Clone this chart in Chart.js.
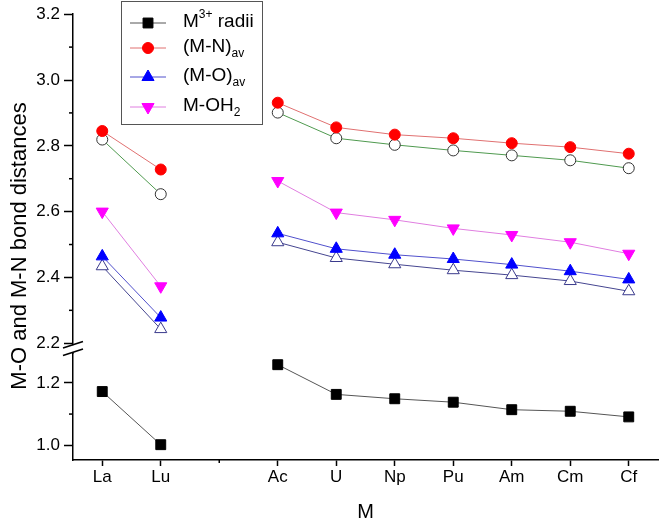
<!DOCTYPE html>
<html>
<head>
<meta charset="utf-8">
<style>
  html, body { margin: 0; padding: 0; background: #fff; }
  #wrap { width: 666px; height: 527px; }
</style>
<script src="https://cdn.jsdelivr.net/npm/chart.js@4.4.1/dist/chart.umd.min.js"></script>
</head>
<body>
<div id="wrap"><canvas id="chart" width="666" height="527"></canvas></div>
<script>
// categories (empty slot = gap between the lanthanides and the actinides)
const elements = ['La', 'Lu', '', 'Ac', 'U', 'Np', 'Pu', 'Am', 'Cm', 'Cf'];

// series values
const radii  = [1.172, 1.002, null, 1.258, 1.163, 1.149, 1.138, 1.114, 1.109, 1.091];
const mnAvg  = [2.845, 2.728, null, 2.931, 2.856, 2.834, 2.823, 2.808, 2.796, 2.776];
const mnCalc = [2.819, 2.653, null, 2.901, 2.823, 2.803, 2.786, 2.771, 2.756, 2.732];
const moAvg  = [2.464, 2.278, null, 2.534, 2.487, 2.469, 2.456, 2.439, 2.419, 2.394];
const moCalc = [2.434, 2.243, null, 2.507, 2.459, 2.440, 2.422, 2.407, 2.389, 2.358];
const mOH2   = [2.600, 2.373, null, 2.693, 2.597, 2.575, 2.549, 2.529, 2.507, 2.472];

// tick values of the broken y axis
const upperTicks = [2.2, 2.3, 2.4, 2.5, 2.6, 2.7, 2.8, 2.9, 3.0, 3.1, 3.2];
const lowerTicks = [1.0, 1.1, 1.2];

const FONT = '"Liberation Sans", Arial, sans-serif';
const isMajor = v => Math.round(v * 10) % 2 === 0;

const ds = (label, data, axis, line, style, r, fill, border, rot) => ({
  label, data, yAxisID: axis,
  borderColor: line, borderWidth: 1,
  pointStyle: style, pointRadius: r, pointHoverRadius: r,
  pointRotation: rot || 0,
  pointBackgroundColor: fill, pointBorderColor: border, pointBorderWidth: 1,
  spanGaps: false, tension: 0
});

const datasets = [
  ds('M3+ radii', radii, 'yLow', '#555555', 'rect', 7, '#000000', '#000000'),
  ds('(M-N)av', mnAvg, 'yUp', '#e07070', 'circle', 5.5, '#ff0000', '#ff0000'),
  ds('calc M-N', mnCalc, 'yUp', '#4f9a4f', 'circle', 5.5, '#ffffff', '#333333'),
  ds('(M-O)av', moAvg, 'yUp', '#5050cc', 'triangle', 7, '#0000ff', '#0000ff'),
  ds('calc M-O', moCalc, 'yUp', '#454590', 'triangle', 7, '#ffffff', '#3a3a8c'),
  ds('M-OH2', mOH2, 'yUp', '#e07ee0', 'triangle', 7, '#ff00ff', '#ff00ff', 180)
];

// legend entries with super/subscripts
const legendItems = [
  { ds: 0, parts: [{ t: 'M' }, { t: '3+', s: 'sup' }, { t: ' radii' }] },
  { ds: 1, parts: [{ t: '(M-N)' }, { t: 'av', s: 'sub' }] },
  { ds: 3, parts: [{ t: '(M-O)' }, { t: 'av', s: 'sub' }] },
  { ds: 5, parts: [{ t: 'M-OH' }, { t: '2', s: 'sub' }] }
];

const decorations = {
  id: 'decorations',
  afterDraw(chart) {
    const ctx = chart.ctx;
    const yUp = chart.scales.yUp, yLow = chart.scales.yLow, x = chart.scales.x;
    const ax = chart.chartArea.left;
    ctx.save();

    // minor ticks
    ctx.strokeStyle = '#000';
    ctx.lineWidth = 1.5;
    [[yUp, upperTicks], [yLow, lowerTicks]].forEach(([s, ticks]) => {
      ticks.filter(v => !isMajor(v)).forEach(v => {
        const py = s.getPixelForValue(v);
        ctx.beginPath(); ctx.moveTo(ax - 4, py); ctx.lineTo(ax, py); ctx.stroke();
      });
    });
    const gx = x.getPixelForValue(2);
    ctx.beginPath(); ctx.moveTo(gx, chart.chartArea.bottom); ctx.lineTo(gx, chart.chartArea.bottom + 3); ctx.stroke();

    // axis break
    const p = yUp.getPixelForValue(2.2);
    ctx.fillStyle = '#fff';
    ctx.fillRect(ax - 2, p + 2, 4, 7);
    ctx.lineWidth = 1.5;
    [p + 1.5, p + 9].forEach(c => {
      ctx.beginPath(); ctx.moveTo(ax - 10, c + 3.3); ctx.lineTo(ax + 10, c - 3.3); ctx.stroke();
    });

    // y title
    ctx.fillStyle = '#000';
    ctx.font = '22px ' + FONT;
    ctx.textAlign = 'center';
    ctx.textBaseline = 'middle';
    ctx.translate(20, 246);
    ctx.rotate(-Math.PI / 2);
    ctx.fillText('M-O and M-N bond distances', 0, 0);
    ctx.restore();

    // legend
    ctx.save();
    ctx.fillStyle = '#fff';
    ctx.fillRect(121.5, 1.5, 141, 123);
    ctx.strokeStyle = '#555';
    ctx.lineWidth = 1;
    ctx.strokeRect(121.5, 1.5, 141, 123);
    const rows = [23, 48, 77, 107];
    legendItems.forEach((item, i) => {
      const d = chart.data.datasets[item.ds];
      const y = rows[i];
      ctx.strokeStyle = d.borderColor;
      ctx.lineWidth = 1;
      ctx.beginPath(); ctx.moveTo(130, y); ctx.lineTo(166, y); ctx.stroke();
      ctx.fillStyle = d.pointBackgroundColor;
      ctx.strokeStyle = d.pointBorderColor;
      Chart.helpers.drawPoint(ctx, {
        pointStyle: d.pointStyle, radius: d.pointRadius,
        rotation: d.pointRotation, borderWidth: 1
      }, 148, y);
      let tx = 183;
      ctx.fillStyle = '#000';
      ctx.textAlign = 'left';
      ctx.textBaseline = 'middle';
      item.parts.forEach(pt => {
        ctx.font = (pt.s ? 12 : 19) + 'px ' + FONT;
        const dy = pt.s === 'sup' ? -7 : pt.s === 'sub' ? 7 : 0;
        ctx.fillText(pt.t, tx, y - 1 + dy);
        tx += ctx.measureText(pt.t).width;
      });
    });
    ctx.restore();
  }
};

const yScale = (min, max, ticks, weight) => ({
  type: 'linear',
  position: 'left',
  stack: 'y',
  stackWeight: weight,
  min, max,
  afterBuildTicks: s => { s.ticks = ticks.map(v => ({ value: v })); },
  afterFit: s => { s.width = 73; },
  border: { display: true, color: '#000', width: 1.5 },
  grid: {
    drawOnChartArea: false,
    tickLength: 9,
    tickWidth: 1.5,
    tickColor: c => (c.tick && isMajor(c.tick.value)) ? '#000' : 'rgba(0,0,0,0)'
  },
  ticks: {
    color: '#000',
    padding: 4,
    font: { family: FONT, size: 17 },
    callback: v => isMajor(v) ? v.toFixed(1) : ''
  }
});

new Chart(document.getElementById('chart'), {
  type: 'line',
  data: { labels: elements, datasets },
  options: {
    responsive: false,
    animation: false,
    events: [],
    layout: { padding: { top: 11, left: 0, right: 0, bottom: 0 } },
    plugins: { legend: { display: false }, tooltip: { enabled: false } },
    scales: {
      x: {
        type: 'category',
        offset: true,
        afterFit: s => { s.height = 67; },
        border: { display: true, color: '#000', width: 1.5 },
        grid: {
          drawOnChartArea: false,
          tickLength: 6,
          tickWidth: 1.5,
          tickColor: c => (c.index === 2) ? 'rgba(0,0,0,0)' : '#000'
        },
        ticks: { color: '#000', padding: 1, maxRotation: 0, autoSkip: false, font: { family: FONT, size: 17 } },
        title: { display: true, text: 'M', color: '#000', font: { family: FONT, size: 20 }, padding: { top: 0, bottom: 3 } }
      },
      yLow: yScale(0.953, 1.293, lowerTicks, 107),
      yUp: yScale(2.168, 3.2, upperTicks, 342)
    }
  },
  plugins: [decorations]
});
</script>
</body>
</html>
